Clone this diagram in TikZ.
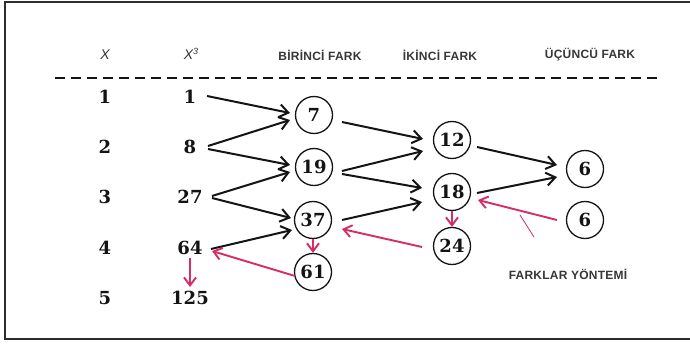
\documentclass[tikz,border=0pt]{standalone}
\usepackage{fontspec}
\newfontfamily\hdrfont[LetterSpace=2]{Liberation Sans}
\newfontfamily\numfont{DejaVu Serif}
\usetikzlibrary{arrows.meta,calc}
\definecolor{pinkline}{RGB}{214,45,105}
\definecolor{framecol}{RGB}{45,45,45}
\definecolor{inkcol}{RGB}{20,20,20}
\begin{document}
\begin{tikzpicture}[x=1pt,y=-1pt,
 num/.style={font=\numfont\bfseries\fontsize{18}{18}\selectfont, inner sep=0pt, text=inkcol},
 circ/.style={num, circle, draw=inkcol, line width=1.3pt, minimum size=37pt},
 hdr/.style={font=\hdrfont\bfseries\fontsize{12}{12}\selectfont, inner sep=0pt, text=inkcol!85},
 blk/.style={draw=inkcol, line width=2pt, -{Straight Barb[length=9pt,width=13pt]}},
 pnk/.style={draw=pinkline, line width=1.9pt, -{Straight Barb[length=8pt,width=12pt]}},
]
\useasboundingbox (0,0) rectangle (690,345);
\fill[white] (0,0) rectangle (690,345);
\draw[framecol, line width=2.4pt] (5,2) rectangle (700,339);

% headers
\node[hdr] (hx)  at (105,55) {\mdseries\itshape\fontsize{14}{14}\selectfont X};
\node[hdr] (hx3) at (191,54) {\mdseries\itshape\fontsize{14}{14}\selectfont X\raisebox{5pt}{\fontsize{9}{9}\selectfont 3}};
\node[hdr] (h1)  at (320,55) {BİRİNCİ FARK};
\node[hdr] (h2)  at (440,55) {İKİNCİ FARK};
\node[hdr] (h3)  at (590,55) {ÜÇÜNCÜ FARK};
\draw[inkcol, line width=1.6pt, dash pattern=on 10pt off 6pt] (55,78) -- (658,78);

% x column
\node[num] (a1) at (105,97)  {1};
\node[num] (a2) at (105,147) {2};
\node[num] (a3) at (105,197) {3};
\node[num] (a4) at (105,248) {4};
\node[num] (a5) at (105,298) {5};
% x^3 column
\node[num] (b1) at (190,97)  {1};
\node[num] (b2) at (190,147) {8};
\node[num] (b3) at (190,197) {27};
\node[num] (b4) at (190,248) {64};
\node[num] (b5) at (190,298) {125};
% first differences
\node[circ] (c7)  at (314,115) {7};
\node[circ] (c19) at (314,167) {19};
\node[circ] (c37) at (313,220) {37};
\node[circ] (c61) at (313,272) {61};
% second differences
\node[circ] (d12) at (452,140) {12};
\node[circ] (d18) at (452,192) {18};
\node[circ] (d24) at (452,246) {24};
% third differences
\node[circ] (e6a) at (585,169) {6};
\node[circ] (e6b) at (585,220) {6};

\node[hdr] (foot) at (568,274) {FARKLAR YÖNTEMİ};

% black arrows
\draw[blk] ($(b1)+(17,-1)$) -- ($(c7)+(-24,-2)$);
\draw[blk] ($(b2)+(18,-1)$) -- ($(c7)+(-24,5)$);
\draw[blk] ($(b2)+(18,2)$)  -- ($(c19)+(-24,-2)$);
\draw[blk] ($(b3)+(22,-1)$) -- ($(c19)+(-24,5)$);
\draw[blk] ($(b3)+(22,1)$)  -- ($(c37)+(-22,-2)$);
\draw[blk] ($(b4)+(21,1)$)  -- ($(c37)+(-21,10)$);

\draw[blk] ($(c7)+(28,7)$)  -- ($(d12)+(-29,-1)$);
\draw[blk] ($(c19)+(28,4)$) -- ($(d12)+(-29,11)$);
\draw[blk] ($(c19)+(28,7)$) -- ($(d18)+(-30,-4)$);
\draw[blk] ($(c37)+(29,0)$) -- ($(d18)+(-30,10)$);

\draw[blk] ($(d12)+(25,7)$) -- ($(e6a)+(-28,-4)$);
\draw[blk] ($(d18)+(25,1)$) -- ($(e6a)+(-28,8)$);

% pink arrows
\draw[pnk] (c37.south) -- (c61.north);
\draw[pnk] ($(c61)+(-18,4)$) -- ($(b4)+(22,3)$);
\draw[pnk] ($(b4)+(0,10)$) -- ($(b5)+(0,-11)$);
\draw[pnk] (d18.south) -- (d24.north);
\draw[pnk] ($(d24)+(-30,1)$) -- ($(c37)+(29,9)$);
\draw[pnk] ($(e6b)+(-28,0)$) -- ($(d18)+(26,8)$);
\draw[pinkline, line width=0.8pt] (520,215) -- (534,237);
\end{tikzpicture}
\end{document}
